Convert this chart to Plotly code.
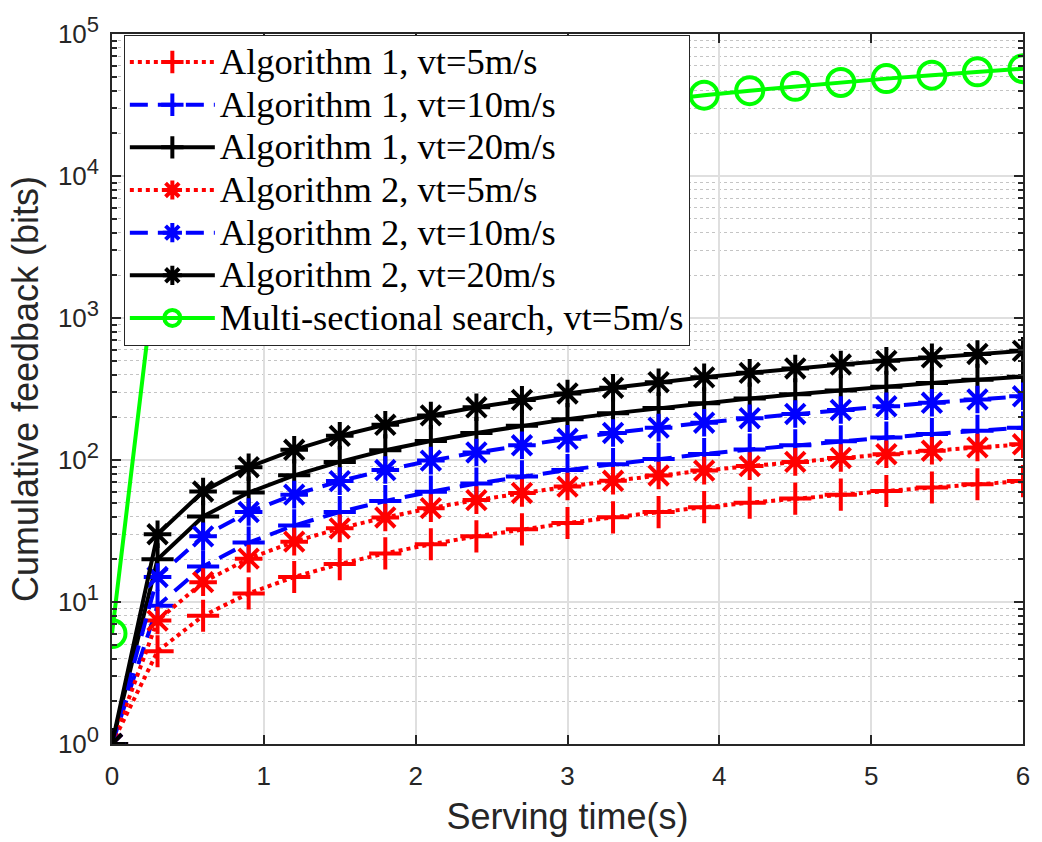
import plotly.graph_objects as go

t = [0.0, 0.3, 0.6, 0.9, 1.2, 1.5, 1.8, 2.1, 2.4, 2.7, 3.0, 3.3, 3.6, 3.9, 4.2, 4.5, 4.8, 5.1, 5.4, 5.7, 6.0]

alg1_v5 = [1, 4.5, 8, 11.5, 15, 18.5, 22, 25.5, 29, 32.5, 36, 39.5, 43, 46.5, 50, 53.5, 57, 60.5, 64, 67.5, 71]
alg1_v10 = [1, 9.4, 17.8, 26.2, 34.6, 43, 51.4, 59.8, 68.2, 76.6, 85, 93.4, 101.8, 110.2, 118.6, 127, 135.4, 143.8, 152.2, 160.6, 169]
alg1_v20 = [1, 20, 40, 59, 78, 97, 117, 136, 155, 174, 194, 213, 232, 251, 271, 290, 309, 328, 348, 367, 386]
alg2_v5 = [1, 7.4, 13.8, 20.2, 26.6, 33, 39.4, 45.8, 52.2, 58.6, 65, 71.4, 77.8, 84.2, 90.6, 97, 103.4, 109.8, 116.2, 122.6, 129]
alg2_v10 = [1, 15, 29, 43, 57, 71, 85, 99, 113, 127, 141, 155, 169, 183, 197, 211, 225, 239, 253, 267, 281]
alg2_v20 = [1, 30, 60, 89, 118, 148, 177, 206, 235, 265, 294, 323, 353, 382, 411, 441, 470, 499, 528, 558, 587]
msearch_v5 = [6, 2860, 5710, 8560, 11400, 14300, 17100, 20000, 22800, 25700, 28500, 31400, 34200,
              37100, 39900, 42800, 45600, 48500, 51300, 54200, 57000]

names = ["Algorithm 1, vt=5m/s", "Algorithm 1, vt=10m/s", "Algorithm 1, vt=20m/s",
         "Algorithm 2, vt=5m/s", "Algorithm 2, vt=10m/s", "Algorithm 2, vt=20m/s",
         "Multi-sectional search, vt=5m/s"]

y_tick_vals = [1, 10, 100, 1000, 10000, 100000]
y_exponents = ["0", "1", "2", "3", "4", "5"]
y_minor_vals = [m * d for d in [1, 10, 100, 1000, 10000] for m in range(2, 10)]
x_tick_vals = [0, 1, 2, 3, 4, 5, 6]

RED, BLUE, BLACK, GREEN = "#FF0000", "#0000FF", "#000000", "#00FF00"
LW = 4

styles = [
    (alg1_v5, RED, "dot", "cross-thin-open", 23),
    (alg1_v10, BLUE, "18px,10px", "cross-thin-open", 23),
    (alg1_v20, BLACK, "solid", "cross-thin-open", 23),
    (alg2_v5, RED, "dot", "asterisk-open", 23),
    (alg2_v10, BLUE, "18px,10px", "asterisk-open", 23),
    (alg2_v20, BLACK, "solid", "asterisk-open", 23),
    (msearch_v5, GREEN, "solid", "circle-open", 27),
]

fig = go.Figure()
for (ys, col, dash, sym, sz), nm in zip(styles, names):
    fig.add_trace(go.Scatter(
        x=t, y=ys, name='<span style="font-size:36.5px">' + nm + '</span>', mode="lines+markers",
        line=dict(color=col, width=LW, dash=dash),
        marker=dict(symbol=sym, size=sz, color=col, line=dict(color=col, width=LW)),
    ))

AXC = "#262626"
tickfont = dict(family="Liberation Sans, Arial", size=26, color=AXC)
titlefont = dict(family="Liberation Sans, Arial", size=36, color=AXC)
y_tick_text = ['10<sup><span style="font-size:22px">' + e + '</span></sup>' for e in y_exponents]

fig.update_layout(
    width=1042, height=842,
    margin=dict(l=112, r=16, t=24, b=95),
    paper_bgcolor="white", plot_bgcolor="white",
    showlegend=True,
    legend=dict(
        x=0.013, y=0.999, xanchor="left", yanchor="top",
        bgcolor="white", bordercolor=AXC, borderwidth=1,
        font=dict(family="Liberation Serif, Times New Roman", size=30.5, color="black"),
        itemwidth=85, tracegroupgap=0,
    ),
    xaxis=dict(
        range=[0, 6], tickvals=x_tick_vals, ticks="inside", ticklen=9, tickwidth=1.5,
        tickcolor=AXC, showline=True, linecolor=AXC, linewidth=1.5, mirror="ticks",
        showgrid=True, gridcolor="#DFDFDF", gridwidth=1.5, zeroline=False,
        tickfont=tickfont, ticklabelstandoff=8,
        title=dict(text="Serving time(s)", font=titlefont, standoff=14),
    ),
    yaxis=dict(
        type="log", range=[0, 5], tickmode="array", tickvals=y_tick_vals, ticktext=y_tick_text,
        ticks="inside", ticklen=9, tickwidth=1.5, tickcolor=AXC,
        showline=True, linecolor=AXC, linewidth=1.5, mirror="ticks",
        showgrid=True, gridcolor="#DFDFDF", gridwidth=1.5, zeroline=False,
        tickfont=tickfont, ticklabelstandoff=6,
        title=dict(text="Cumulative feedback (bits)", font=titlefont, standoff=8),
        minor=dict(tickmode="array", tickvals=y_minor_vals, ticks="inside", ticklen=5,
                   tickcolor=AXC, showgrid=True, gridcolor="#C4C4C4", griddash="dot", gridwidth=1),
    ),
)

fig.write_html("out.html")
